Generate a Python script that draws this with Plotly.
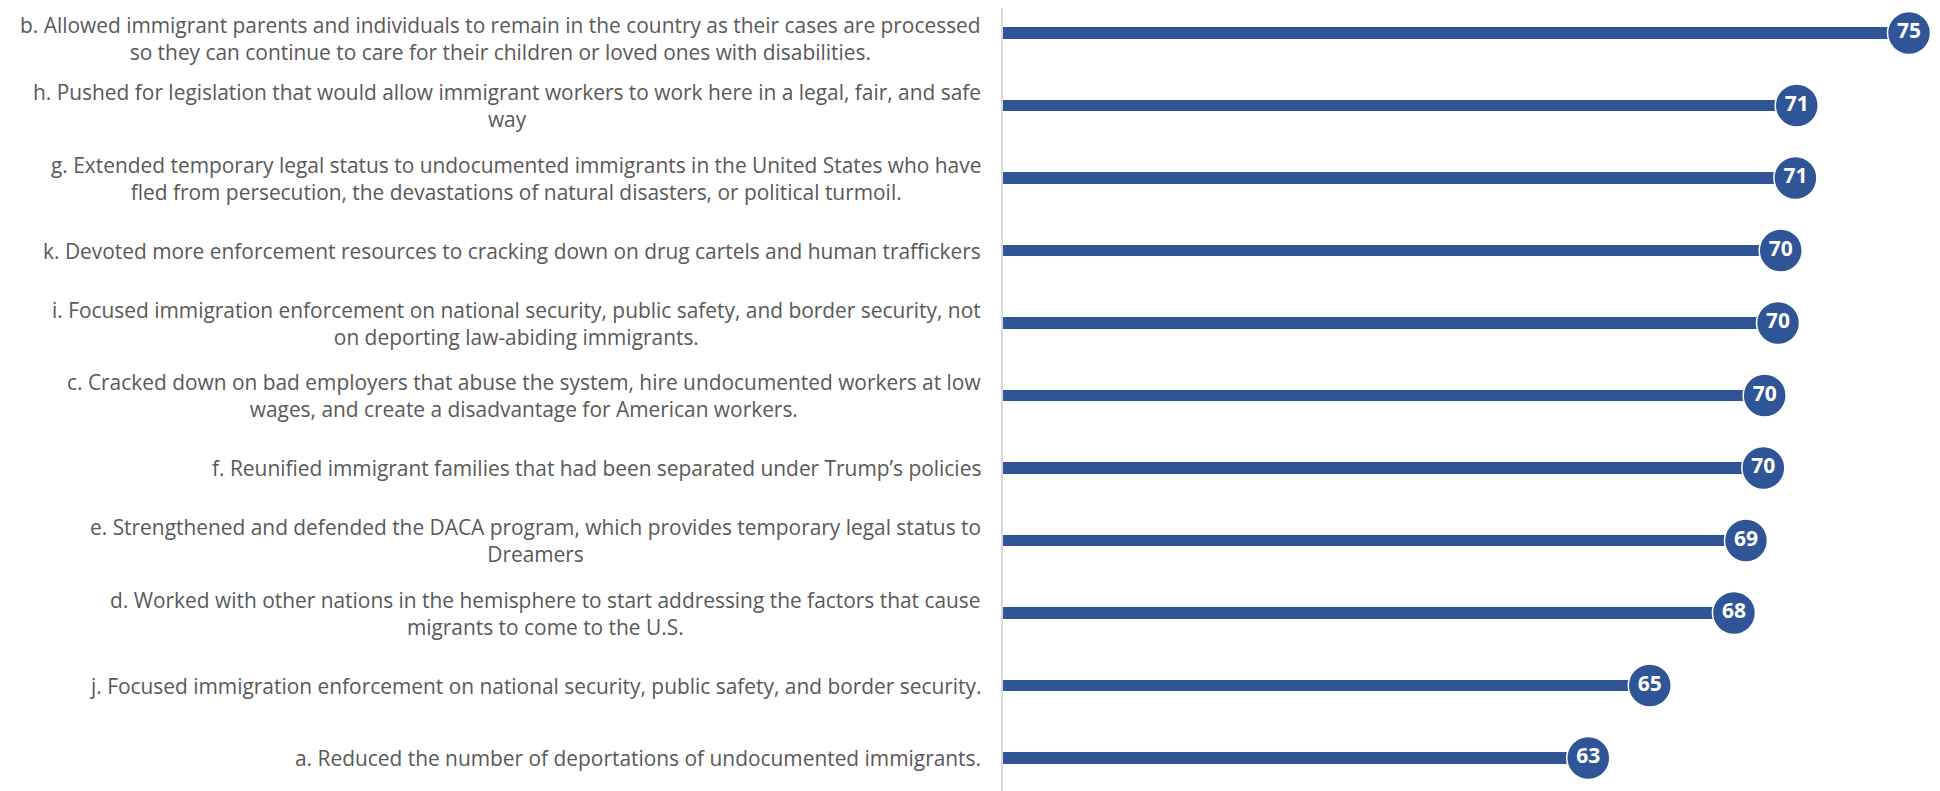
import plotly.graph_objects as go

# ---- data (top to bottom) ----
keys = ["b", "h", "g", "k", "i", "c", "f", "e", "d", "j", "a"]
labels = [
    "b. Allowed immigrant parents and individuals to remain in the country as their cases are processed<br>so they can continue to care for their children or loved ones with disabilities.",
    "h. Pushed for legislation that would allow immigrant workers to work here in a legal, fair, and safe<br>way",
    "g. Extended temporary legal status to undocumented immigrants in the United States who have<br>fled from persecution, the devastations of natural disasters, or political turmoil.",
    "k. Devoted more enforcement resources to cracking down on drug cartels and human traffickers",
    "i. Focused immigration enforcement on national security, public safety, and border security, not<br>on deporting law-abiding immigrants.",
    "c. Cracked down on bad employers that abuse the system, hire undocumented workers at low<br>wages, and create a disadvantage for American workers.",
    "f. Reunified immigrant families that had been separated under Trump\u2019s policies",
    "e. Strengthened and defended the DACA program, which provides temporary legal status to<br>Dreamers",
    "d. Worked with other nations in the hemisphere to start addressing the factors that cause<br>migrants to come to the U.S.",
    "j. Focused immigration enforcement on national security, public safety, and border security.",
    "a. Reduced the number of deportations of undocumented immigrants.",
]
values = [75.0, 70.8, 70.75, 70.2, 70.1, 69.6, 69.55, 68.9, 68.45, 65.3, 63.0]
value_labels = ["75", "71", "71", "70", "70", "70", "70", "69", "68", "65", "63"]

BLUE = "#2F5597"
FONT = "Open Sans, sans-serif"

fig = go.Figure()
fig.add_trace(go.Bar(
    x=values, y=keys, orientation="h", width=0.16,
    marker=dict(color=BLUE, line=dict(width=0)),
    hoverinfo="skip", showlegend=False,
))
fig.add_trace(go.Scatter(
    x=values, y=keys, mode="markers+text",
    text=value_labels, textposition="middle center",
    textfont=dict(family=FONT, size=21, color="white", weight="bold"),
    marker=dict(size=43, color=BLUE, line=dict(color="white", width=1.5)),
    cliponaxis=False, showlegend=False,
))

for i, (k, lab) in enumerate(zip(keys, labels)):
    fig.add_annotation(
        x=0, xref="paper", y=k, yref="y",
        xanchor="right", yanchor="middle", xshift=-21,
        yshift=-5 if i == 0 else 0,
        text=lab, showarrow=False, align="center", borderpad=0,
        font=dict(family=FONT, size=20.9, color="#595959"),
    )

# figure is placed 8px inside the page (default body margin)
fig.update_layout(
    width=1932, height=783,
    margin=dict(l=995, r=0, t=0, b=0),
    paper_bgcolor="white", plot_bgcolor="white",
    bargap=0,
    xaxis=dict(range=[40.8 + 8 / 26.5, 76.16], visible=False, fixedrange=True),
    yaxis=dict(
        categoryorder="array", categoryarray=keys,
        range=[10.455, -0.345],
        showticklabels=False, showgrid=False, zeroline=False,
        showline=True, linecolor="#D9D9D9", linewidth=2, ticks="",
    ),
)

fig.write_html("out.html")
